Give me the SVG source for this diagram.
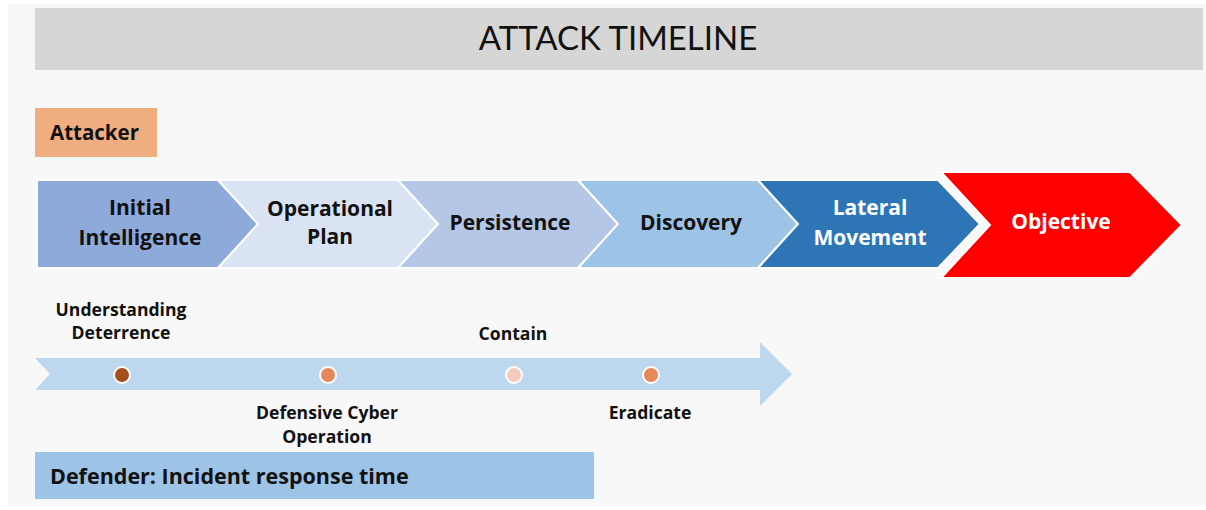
<svg xmlns="http://www.w3.org/2000/svg" width="1206" height="510" viewBox="0 0 1206 510">
<style>
text{font-family:Lato,"Open Sans","Liberation Sans",sans-serif;}
.b{font-family:"Open Sans","Liberation Sans",sans-serif;font-weight:bold;fill:#111;}
.chev{stroke:#ffffff;stroke-width:2;}
.lbl{font-family:"Open Sans","Liberation Sans",sans-serif;font-size:21px;text-anchor:middle;font-weight:bold;}
.sm{font-family:"Open Sans","Liberation Sans",sans-serif;font-size:17.6px;text-anchor:middle;font-weight:bold;fill:#111;}
.dot{stroke:#ffffff;stroke-width:2;}
</style>
<rect x="0" y="0" width="1206" height="510" fill="#ffffff"/>
<rect x="8" y="4" width="1198" height="502" fill="#f8f8f8"/>

<g id="title">
<rect x="35" y="8" width="1168" height="62" fill="#d6d6d6"/>
<text x="618" y="50" font-size="33" text-anchor="middle" fill="#111">ATTACK TIMELINE</text>
</g>

<g id="attacker">
<rect x="35" y="108" width="122" height="49" fill="#f0ae80"/>
<text x="50" y="140" font-size="20.5" class="b">Attacker</text>
</g>

<g id="initial-intelligence">
<polygon class="chev" points="37,180 218,180 258,224 218,268 37,268" fill="#8eaadb"/>
<text class="lbl" x="140" y="215" fill="#111">Initial</text>
<text class="lbl" x="140" y="245" fill="#111">Intelligence</text>
</g>
<g id="operational-plan">
<polygon class="chev" points="218,180 398,180 438,224 398,268 218,268 258,224" fill="#dae3f3"/>
<text class="lbl" x="330" y="216" fill="#111" font-size="18.6">Operational</text>
<text class="lbl" x="330" y="244" fill="#111" font-size="18.6">Plan</text>
</g>
<g id="persistence">
<polygon class="chev" points="398,180 578,180 618,224 578,268 398,268 438,224" fill="#b4c7e7"/>
<text class="lbl" x="510" y="230" fill="#111">Persistence</text>
</g>
<g id="discovery">
<polygon class="chev" points="578,180 758,180 798,224 758,268 578,268 618,224" fill="#9dc3e6"/>
<text class="lbl" x="691" y="230" fill="#111">Discovery</text>
</g>
<g id="lateral-movement">
<polygon class="chev" points="758,180 938,180 980,224 938,268 758,268 798,224" fill="#2e75b6"/>
<text class="lbl" x="870" y="215" fill="#ffffff">Lateral</text>
<text class="lbl" x="870" y="245" fill="#ffffff">Movement</text>
</g>
<g id="objective">
<polygon points="941,172 1130,172 1182,225 1130,278 941,278 990,225" fill="#ff0000" stroke="#ffffff" stroke-width="2"/>
<text class="lbl" x="1061" y="229" fill="#ffffff" font-size="19.2">Objective</text>
</g>

<g id="connectors">
<polygon points="35,358 760,358 760,342 792,374 760,406 760,390 35,390 50,374" fill="#bdd7ee"/>
</g>

<g id="understanding-deterrence">
<circle class="dot" cx="122" cy="375" r="8" fill="#a5501c"/>
<text class="sm" x="121" y="316">Understanding</text>
<text class="sm" x="121" y="339">Deterrence</text>
</g>
<g id="defensive-cyber-operation">
<circle class="dot" cx="328" cy="375" r="8" fill="#e5875a"/>
<text class="sm" x="327" y="419">Defensive Cyber</text>
<text class="sm" x="327" y="443">Operation</text>
</g>
<g id="contain">
<circle class="dot" cx="514" cy="375" r="8" fill="#f6cbbd"/>
<text class="sm" x="513" y="340">Contain</text>
</g>
<g id="eradicate">
<circle class="dot" cx="651" cy="375" r="8" fill="#e8875a"/>
<text class="sm" x="650" y="419">Eradicate</text>
</g>

<g id="defender">
<rect x="35" y="452" width="559" height="47" fill="#9dc3e6"/>
<text x="50" y="484" font-size="21.5" class="b">Defender: Incident response time</text>
</g>
</svg>
